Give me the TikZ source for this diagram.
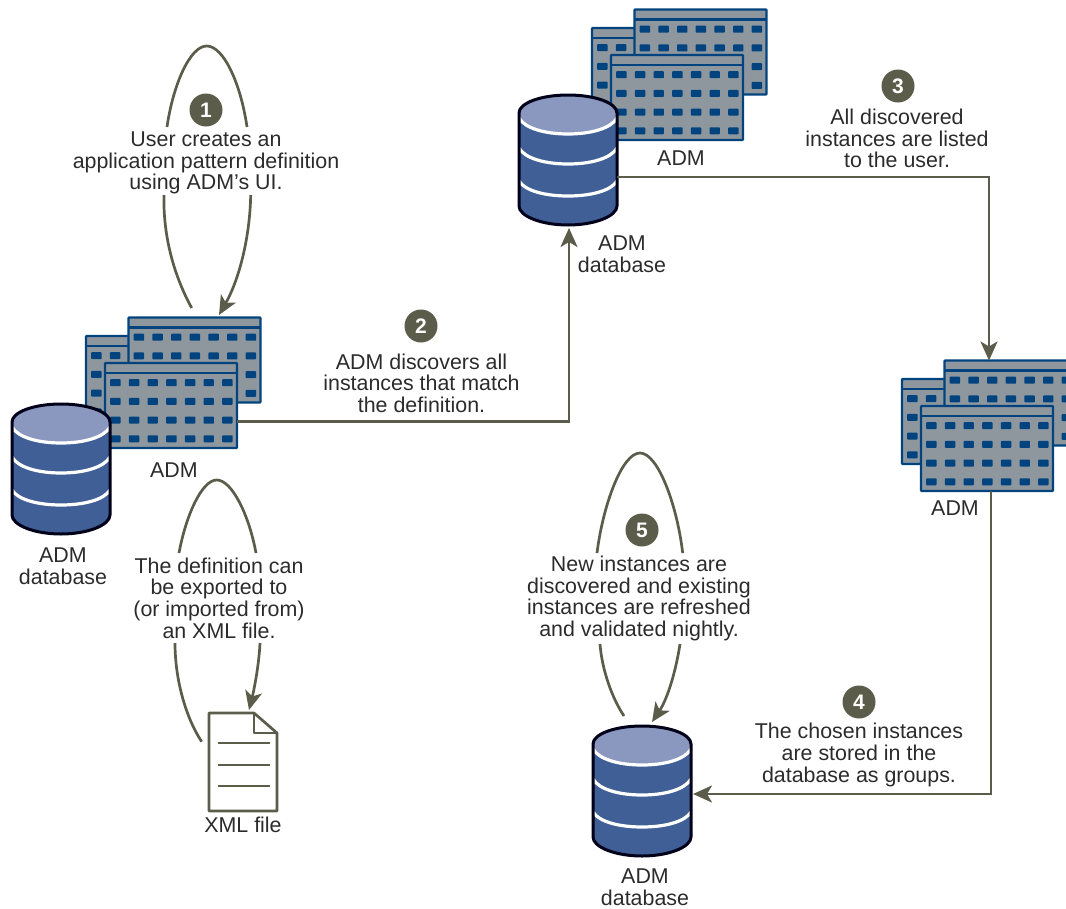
\documentclass[tikz,border=0pt]{standalone}
\usepackage{fontspec}
\setmainfont{Liberation Sans}
\usetikzlibrary{arrows.meta}
\definecolor{olv}{HTML}{5B5D4A}
\definecolor{winblue}{HTML}{00437F}
\definecolor{wingray}{HTML}{8F979E}
\definecolor{dbblue}{HTML}{3F5F96}
\definecolor{dblil}{HTML}{8A97BF}
\definecolor{txt}{HTML}{2B2B2B}
\tikzset{
  lbl/.style={font=\fontsize{21.4}{21.6}\selectfont,text=txt,align=center,inner sep=0pt,outer sep=0pt},
  badge/.style={circle,fill=olv,text=white,minimum size=33pt,inner sep=0pt,font=\fontsize{21}{21}\selectfont\bfseries},
  conn/.style={draw=olv,line width=2.7pt,-{Stealth[length=19pt,width=17pt,inset=5pt]}},
  docl/.style={draw=olv,line width=2.7pt},
  winframe/.style={draw=winblue,fill=wingray,line width=2.4pt,rounded corners=0.8pt,minimum width=132pt,minimum height=85pt,inner sep=0pt,outer sep=0pt,anchor=north west},
  bx/.style={inner sep=0pt,outer sep=0pt,anchor=north west}
}
\newcommand\winbox[3]{%
  \node[winframe] (#1) at (#2,#3) {};
  \draw[winblue,line width=2.2pt] (#2,#3+10) -- (#2+132,#3+10);
  \foreach \i in {0,...,6}{\foreach \j in {0,...,3}{
    \fill[winblue,rounded corners=0.8pt] ({#2+5.2+\i*18.67},{#3+16.2+\j*18.7}) rectangle ++(10.4,7);
  }}%
}
\newcommand\winstack[3]{% name, front x, front y
  \winbox{#1l}{#2-19}{#3-27}
  \winbox{#1r}{#2+23.5}{#3-45.5}
  \winbox{#1}{#2}{#3}
}
\newcommand\dbase[3]{%
  \node[bx,minimum width=98pt,minimum height=130pt] (#1) at (#2,#3) {};
  \begin{scope}[shift={(#2,#3)}]
    \fill[dbblue] (0,18) .. controls (0,8) and (22,0) .. (49,0) .. controls (76,0) and (98,8) .. (98,18) -- (98,111) .. controls (98,121) and (76,130) .. (49,130) .. controls (22,130) and (0,121) .. (0,111) -- cycle;
    \fill[dblil] (0,18) .. controls (0,8) and (22,0) .. (49,0) .. controls (76,0) and (98,8) .. (98,18) -- (98,23) .. controls (98,32) and (76,39) .. (49,39) .. controls (22,39) and (0,32) .. (0,23) -- cycle;
    \foreach \yy/\dd in {23/16,53/16,86/15}{
      \draw[white,line width=3.2pt] (0,\yy) .. controls (6,{\yy+0.65*\dd}) and (26,{\yy+\dd}) .. (49,{\yy+\dd}) .. controls (72,{\yy+\dd}) and (92,{\yy+0.65*\dd}) .. (98,\yy);
    }
    \draw[black!90!blue,line width=3pt] (0,18) .. controls (0,8) and (22,0) .. (49,0) .. controls (76,0) and (98,8) .. (98,18) -- (98,111) .. controls (98,121) and (76,130) .. (49,130) .. controls (22,130) and (0,121) .. (0,111) -- cycle;
  \end{scope}
}
\begin{document}
\begin{tikzpicture}[x=1pt,y=-1pt]
\useasboundingbox (0,0) rectangle (1066,908);

% loop endpoints
\coordinate (l1s) at (191.7,308);
\coordinate (l1e) at (219,315);
\coordinate (l2s) at (201.7,741.7);
\coordinate (l2e) at (249,710);
\coordinate (l5s) at (624,716);
\coordinate (l5e) at (652,722);

% loops (each interrupted where its text stands)
\draw[conn] (l1s) .. controls (172,272) and (163,232) .. (164,195)
  (167,127) .. controls (173,85) and (190,46) .. (206.7,46) .. controls (224,46) and (241,85) .. (247,127)
  (250.7,195) .. controls (250,235) and (240,278) .. (l1e);
\draw[conn] (l2s) .. controls (186,718) and (175,680) .. (175,643)
  (179,553) .. controls (186,515) and (202,480) .. (216.7,480) .. controls (232,480) and (249,515) .. (256,553)
  (260,643) .. controls (259,665) and (254,690) .. (l2e);
\draw[conn] (l5s) .. controls (612,698) and (602,670) .. (600,644)
  (597,553) .. controls (603,505) and (622,453) .. (640,453) .. controls (658,453) and (677,505) .. (682.7,553)
  (680,644) .. controls (676,670) and (668,698) .. (l5e);

% windows and databases
\winstack{winA}{105}{363}
\dbase{dbA}{12}{404}
\winstack{winB}{611}{55}
\dbase{dbB}{519}{95}
\winstack{winC}{921}{406}
\dbase{dbC}{593}{726}

% document
\node[bx,minimum width=68pt,minimum height=98pt] (doc) at (209,713) {};
\draw[docl,line join=round] (doc.north west) -- ([xshift=45pt]doc.north west) -- ([yshift=-20pt]doc.north east) -- (doc.south east) -- (doc.south west) -- cycle;
\draw[docl,line join=round] ([xshift=45pt]doc.north west) -- ([xshift=45pt,yshift=-20pt]doc.north west) -- ([yshift=-20pt]doc.north east);
\foreach \yy in {30,52,73}{\draw[docl] ([xshift=9pt,yshift=-\yy pt]doc.north west) -- ([xshift=-7pt,yshift=-\yy pt]doc.north east);}

% straight connectors
\draw[conn] ([yshift=-16pt]winA.east) -| ([xshift=1pt,yshift=-3pt]dbB.south);
\draw[conn] ([yshift=-17pt]dbB.east) -| ([xshift=-21.5pt]winCr.north);
\draw[conn] ([xshift=4pt]winC.south) |- ([xshift=2pt,yshift=-3pt]dbC.east);

% text on the loops
\node[lbl] (t1) at (206,163) {User creates an\\application pattern definition\\using ADM’s UI.};
\node[lbl] (t6) at (219,598) {The definition can\\be exported to\\(or imported from)\\an XML file.};
\node[lbl] (t5) at (639,598.5) {New instances are\\discovered and existing\\instances are refreshed\\and validated nightly.};

% other text
\node[lbl] (t2) at (421.5,383) {ADM discovers all\\instances that match\\the definition.};
\node[lbl] (t3) at (897,138.5) {All discovered\\instances are listed\\to the user.};
\node[lbl] (t4) at (859,755) {The chosen instances\\are stored in the\\database as groups.};
\node[lbl] (a1) at (174,470) {ADM};
\node[lbl] (a2) at (63,566) {ADM\\database};
\node[lbl] (a3) at (681,158) {ADM};
\node[lbl] (a4) at (622,254) {ADM\\database};
\node[lbl] (a5) at (955,508) {ADM};
\node[lbl] (a6) at (645,887) {ADM\\database};
\node[lbl] (a7) at (243,825) {XML file};

% badges
\node[badge] (b1) at (206,110) {1};
\node[badge] (b2) at (421,326) {2};
\node[badge] (b3) at (898,86) {3};
\node[badge] (b4) at (859,702) {4};
\node[badge] (b5) at (642,530) {5};
\end{tikzpicture}
\end{document}
